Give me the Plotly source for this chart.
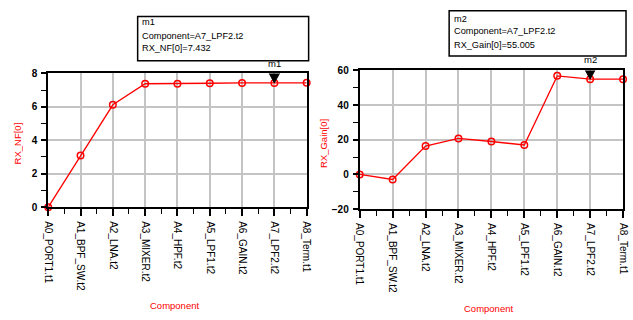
import plotly.graph_objects as go

components = ["A0_PORT1.t1", "A1_BPF_SW.t2", "A2_LNA.t2", "A3_MIXER.t2", "A4_HPF.t2",
              "A5_LPF1.t2", "A6_GAIN.t2", "A7_LPF2.t2", "A8_Term.t1"]
rx_nf = [0.0, 3.09, 6.12, 7.38, 7.38, 7.41, 7.43, 7.432, 7.435]
rx_gain = [0.0, -2.9, 16.4, 20.8, 19.0, 17.0, 56.9, 55.005, 55.0]
nf_ticks = [0, 2, 4, 6, 8]
gain_ticks = [-20, 0, 20, 40, 60]
marker_idx = 7

W, H = 633, 320
FONT = "Liberation Sans, Arial, sans-serif"
RED = "#ff0000"
xs = list(range(len(components)))

fig = go.Figure()
for ax, vals in (("", rx_nf), ("2", rx_gain)):
    fig.add_trace(go.Scatter(
        x=xs, y=vals, xaxis="x" + ax, yaxis="y" + ax, mode="lines+markers",
        line=dict(color=RED, width=1.3),
        marker=dict(symbol="circle-open", size=6.5, color=RED, line=dict(width=1.5, color=RED)),
        cliponaxis=False, showlegend=False, hoverinfo="skip"))

def xaxis_cfg(domain, anchor):
    return dict(domain=domain, anchor=anchor, range=[0, len(components) - 1],
                tickmode="array", tickvals=xs, ticktext=components, tickangle=90,
                tickfont=dict(family=FONT, size=10, color="black"),
                ticks="outside", ticklen=7, tickwidth=1.5, tickcolor="black",
                ticklabelstandoff=3,
                showline=True, mirror=True, linewidth=2, linecolor="black",
                showgrid=True, gridcolor="#c4c4c4", gridwidth=1.5, zeroline=False,
                minor=dict(dtick=0.5, tick0=0, ticks="outside", ticklen=5, tickwidth=1.2,
                           tickcolor="black", showgrid=False))

def yaxis_cfg(domain, anchor, ticks, minor_dtick):
    return dict(domain=domain, anchor=anchor, range=[ticks[0], ticks[-1]],
                tickmode="array", tickvals=ticks,
                tickfont=dict(family=FONT, size=10, color="black", weight="bold"),
                ticks="outside", ticklen=5, tickwidth=1.5, tickcolor="black",
                ticklabelstandoff=2,
                showline=True, mirror=True, linewidth=2, linecolor="black",
                showgrid=True, gridcolor="#c4c4c4", gridwidth=1.5, zeroline=False,
                minor=dict(dtick=minor_dtick, tick0=ticks[0], ticks="outside", ticklen=5,
                           tickwidth=1.2, tickcolor="black", showgrid=False))

fig.update_layout(
    width=W, height=H, autosize=False, margin=dict(l=0, r=0, t=0, b=0),
    paper_bgcolor="white", plot_bgcolor="white",
    xaxis=xaxis_cfg([44 / W, 307 / W], "y"),
    yaxis=yaxis_cfg([1 - 209 / H, 1 - 70 / H], "x", nf_ticks, 1),
    xaxis2=xaxis_cfg([361 / W, 629 / W], "y2"),
    yaxis2=yaxis_cfg([1 - 211 / H, 1 - 67 / H], "x2", gain_ticks, 10),
)

ann = []
def txt(x, y, s, color="black", size=9.5, angle=0, xanchor="left"):
    ann.append(dict(x=x / W, y=1 - y / H, xref="paper", yref="paper", text=s,
                    showarrow=False, xanchor=xanchor, yanchor="middle", textangle=angle,
                    font=dict(family=FONT, size=size, color=color)))

# axis titles
txt(13, 143, "RX_NF[0]", RED, 9.5, -90, "center")
txt(324, 143, "RX_Gain[0]", RED, 9.5, -90, "center")
txt(173, 311, "Component", RED, 9.5, 0, "center")
txt(492, 314, "Component", RED, 9.5, 0, "center")

# marker readout boxes
comp = components[marker_idx]
boxes = [((135, 11, 309, 57), (137, [17, 31, 44]),
          ["m1", f"Component={comp}", f"RX_NF[0]={rx_nf[marker_idx]:.3f}"]),
         ((452, 5, 632, 52), (455, [13, 26, 40]),
          ["m2", f"Component={comp}", f"RX_Gain[0]={rx_gain[marker_idx]:.3f}"])]
shapes = []
for (x0, y0, x1, y1), (tx, tys), lines in boxes:
    shapes.append(dict(type="rect", xref="paper", yref="paper", x0=x0 / W, x1=x1 / W,
                       y0=1 - y1 / H, y1=1 - y0 / H, line=dict(color="black", width=1.5),
                       fillcolor="white", layer="above"))
    for ty, s in zip(tys, lines):
        txt(tx, ty, s, size=9.2)

# marker triangles and labels anchored at data point
for ax, vals, name in (("", rx_nf, "m1"), ("2", rx_gain, "m2")):
    shapes.append(dict(type="path", xref="x" + ax, yref="y" + ax,
                       xsizemode="pixel", ysizemode="pixel",
                       xanchor=marker_idx, yanchor=vals[marker_idx],
                       path="M-6.5,12 L6.5,12 L0,0 Z", fillcolor="black",
                       line=dict(color="black", width=1), layer="above"))
    ann.append(dict(x=marker_idx, y=vals[marker_idx], xref="x" + ax, yref="y" + ax,
                    text=name, showarrow=False, xanchor="center", yanchor="bottom",
                    yshift=12, font=dict(family=FONT, size=9.5, color="black")))

fig.update_layout(annotations=ann, shapes=shapes)
fig.write_html("out.html", config={"displayModeBar": False},
               post_script="document.body.style.margin='0';document.body.style.overflow='hidden';")
